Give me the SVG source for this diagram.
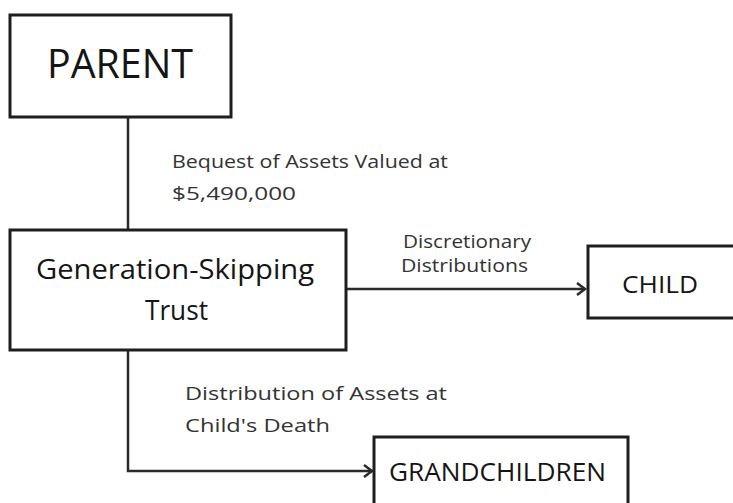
<svg xmlns="http://www.w3.org/2000/svg" width="733" height="503" viewBox="0 0 733 503">
<defs>
<style>
.box{fill:#fff;stroke:#1e1e1e;stroke-width:3}
.nt{font-family:"Open Sans","Noto Sans",sans-serif;fill:#151515}
.lt{font-family:"Open Sans","Noto Sans",sans-serif;fill:#333;font-size:19px}
.con{fill:none;stroke:#2a2a2a;stroke-width:2.5}
.ah{fill:none;stroke:#2a2a2a;stroke-width:2.5}
</style>
</defs>
<rect width="733" height="503" fill="#fff"/>
<g id="connectors">
<line class="con" x1="128" y1="117" x2="128" y2="230"/>
<line class="con" x1="346" y1="289" x2="585" y2="289"/>
<path class="ah" d="M577,283 L585,289 L577,295"/>
<polyline class="con" points="128,350 128,471 372,471"/>
<path class="ah" d="M364,465 L372,471 L364,477"/>
</g>
<g id="parent">
<rect class="box" x="10" y="15" width="221" height="102"/>
<text class="nt" x="47" y="78" font-size="41" textLength="146" lengthAdjust="spacingAndGlyphs">PARENT</text>
</g>
<g id="trust">
<rect class="box" x="10" y="230" width="336" height="120"/>
<text class="nt" x="36" y="279" font-size="28" textLength="278" lengthAdjust="spacingAndGlyphs">Generation-Skipping</text>
<text class="nt" x="145" y="320" font-size="28" textLength="63" lengthAdjust="spacingAndGlyphs">Trust</text>
</g>
<g id="child">
<rect class="box" x="588" y="246" width="150" height="72"/>
<text class="nt" x="622" y="293" font-size="24" textLength="76" lengthAdjust="spacingAndGlyphs">CHILD</text>
</g>
<g id="grandchildren">
<rect class="box" x="374" y="437" width="254" height="75"/>
<text class="nt" x="389" y="481" font-size="25" textLength="217" lengthAdjust="spacingAndGlyphs">GRANDCHILDREN</text>
</g>
<g id="labels">
<text class="lt" x="172" y="168" textLength="276" lengthAdjust="spacingAndGlyphs">Bequest of Assets Valued at</text>
<text class="lt" x="172" y="200" textLength="124" lengthAdjust="spacingAndGlyphs">$5,490,000</text>
<text class="lt" x="403" y="248" textLength="128" lengthAdjust="spacingAndGlyphs">Discretionary</text>
<text class="lt" x="401" y="272" textLength="127" lengthAdjust="spacingAndGlyphs">Distributions</text>
<text class="lt" x="185" y="400" textLength="262" lengthAdjust="spacingAndGlyphs">Distribution of Assets at</text>
<text class="lt" x="185" y="432" textLength="145" lengthAdjust="spacingAndGlyphs">Child's Death</text>
</g>
</svg>
